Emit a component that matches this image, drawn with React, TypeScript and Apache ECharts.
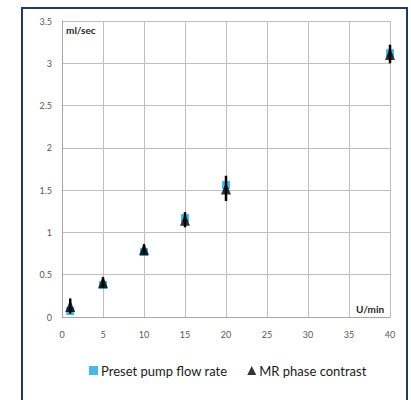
import React, { useEffect, useRef } from "react";
import * as echarts from "echarts";

const flowRates = [1, 5, 10, 15, 20, 40];
const presetValues = [0.07, 0.38, 0.77, 1.17, 1.56, 3.12];
const mrValues = [0.13, 0.41, 0.8, 1.15, 1.52, 3.11];
const mrErrors = [0.09, 0.06, 0.06, 0.09, 0.15, 0.11];
const xTicks = [0, 5, 10, 15, 20, 25, 30, 35, 40];
const yTicks = [0, 0.5, 1, 1.5, 2, 2.5, 3, 3.5];

export default function App() {
  const ref = useRef<HTMLDivElement>(null);
  useEffect(() => {
    const chart = echarts.init(ref.current!, null, { renderer: "svg" });
    const font = "Lato, 'Open Sans', sans-serif";
    chart.setOption({
      animation: false,
      backgroundColor: "#ffffff",
      textStyle: { fontFamily: font },
      grid: { left: 62, top: 21, right: 21, bottom: 83 },
      xAxis: {
        type: "value",
        min: xTicks[0],
        max: xTicks[xTicks.length - 1],
        interval: 5,
        axisLine: { show: true, lineStyle: { color: "#a6a6a6", width: 1 } },
        axisTick: { show: false },
        axisLabel: { color: "#595959", fontSize: 9, margin: 13, fontFamily: font },
        splitLine: { show: true, lineStyle: { color: "#bfbfbf", width: 1 } },
      },
      yAxis: {
        type: "value",
        min: yTicks[0],
        max: yTicks[yTicks.length - 1],
        interval: 0.5,
        axisLine: { show: true, lineStyle: { color: "#a6a6a6", width: 1 } },
        axisTick: { show: false },
        axisLabel: { color: "#595959", fontSize: 9, margin: 10, fontFamily: font },
        splitLine: { show: true, lineStyle: { color: "#bfbfbf", width: 1 } },
      },
      legend: {
        top: 359,
        left: 84,
        itemGap: 20,
        itemWidth: 9,
        itemHeight: 9,
        textStyle: { fontSize: 13, color: "#1a1a1a", fontFamily: font, padding: [0, 0, 0, -2] },
        data: [
          { name: "Preset pump flow rate", icon: "rect" },
          { name: "MR phase contrast", icon: "triangle" },
        ],
      },
      graphic: [
        {
          type: "rect",
          shape: { x: 22, y: 8, width: 385, height: 400 },
          style: { fill: "none", stroke: "#1f3b63", lineWidth: 2 },
          silent: true,
        },
        {
          type: "text",
          x: 66,
          y: 25,
          style: { text: "ml/sec", fontSize: 10, fontWeight: "bold", fill: "#262626", fontFamily: font },
        },
        {
          type: "text",
          x: 356,
          y: 304,
          style: { text: "U/min", fontSize: 10, fontWeight: "bold", fill: "#262626", fontFamily: font },
        },
      ],
      series: [
        {
          name: "Preset pump flow rate",
          type: "scatter",
          symbol: "rect",
          symbolSize: 8,
          itemStyle: { color: "#1aa7e0" },
          data: flowRates.map((x, i) => [x, presetValues[i]]),
          z: 2,
        },
        {
          name: "MR error",
          type: "custom",
          renderItem: (params: any, api: any) => {
            const x = api.value(0);
            const lo = api.coord([x, api.value(1)]);
            const hi = api.coord([x, api.value(2)]);
            return {
              type: "line",
              shape: { x1: lo[0], y1: lo[1], x2: hi[0], y2: hi[1] },
              style: { stroke: "#000", lineWidth: 2.5 },
            };
          },
          data: flowRates.map((x, i) => [x, mrValues[i] - mrErrors[i], mrValues[i] + mrErrors[i]]),
          encode: { x: 0, y: [1, 2] },
          z: 3,
        },
        {
          name: "MR phase contrast",
          type: "scatter",
          symbol: "triangle",
          symbolSize: [10, 12],
          itemStyle: { color: "#000" },
          data: flowRates.map((x, i) => [x, mrValues[i]]),
          z: 4,
        },
      ],
    });
    return () => chart.dispose();
  }, []);
  return (
    <div
      ref={ref}
      style={{ position: "fixed", left: 0, top: 0, width: 411, height: 400 }}
    />
  );
}
